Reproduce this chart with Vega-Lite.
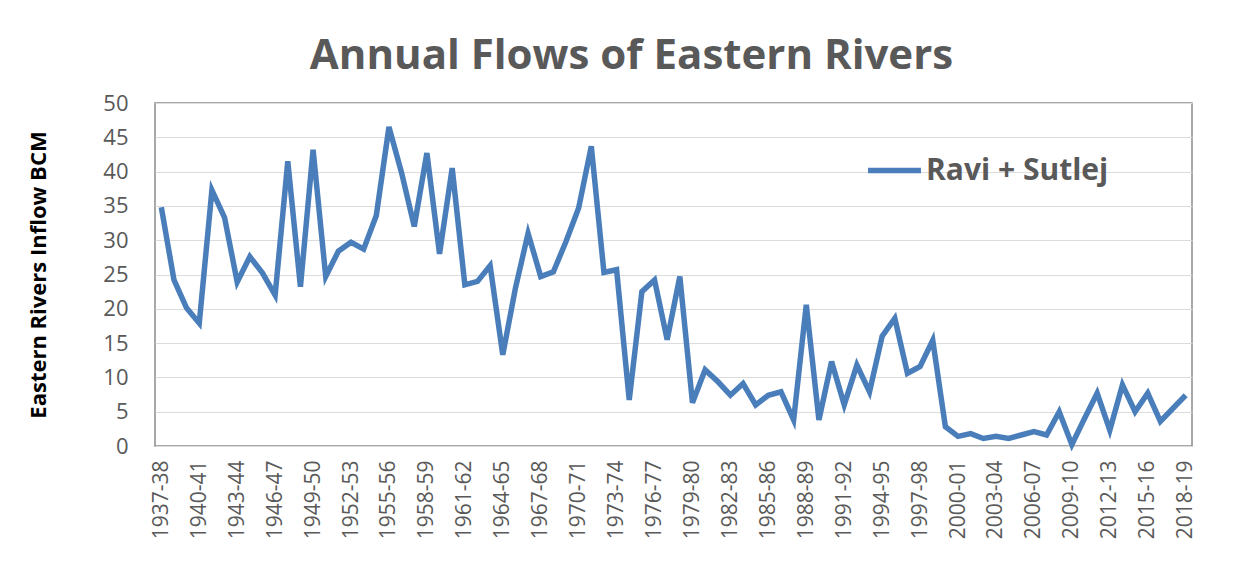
{
  "$schema": "https://vega.github.io/schema/vega-lite/v6.json",
  "width": 1037,
  "height": 343,
  "autosize": {"type": "none"},
  "padding": {"left": 155, "top": 103, "right": 60, "bottom": 135},
  "background": "white",
  "title": {
    "text": "Annual  Flows of Eastern Rivers",
    "font": "Open Sans",
    "fontSize": 42,
    "fontWeight": "bold",
    "color": "#595959",
    "anchor": "middle",
    "dx": -42,
    "offset": 14
  },
  "config": {
    "view": {"stroke": "#8c8c8c", "strokeWidth": 1.5},
    "axis": {"labelFont": "Open Sans", "labelColor": "#595959", "titleFont": "Open Sans"}
  },
  "data": {
    "values": [
      {"year": "1937-38", "flow": 34.8, "series": "Ravi + Sutlej"},
      {"year": "1938-39", "flow": 24.2, "series": "Ravi + Sutlej"},
      {"year": "1939-40", "flow": 20.1, "series": "Ravi + Sutlej"},
      {"year": "1940-41", "flow": 17.9, "series": "Ravi + Sutlej"},
      {"year": "1941-42", "flow": 37.3, "series": "Ravi + Sutlej"},
      {"year": "1942-43", "flow": 33.3, "series": "Ravi + Sutlej"},
      {"year": "1943-44", "flow": 23.9, "series": "Ravi + Sutlej"},
      {"year": "1944-45", "flow": 27.6, "series": "Ravi + Sutlej"},
      {"year": "1945-46", "flow": 25.2, "series": "Ravi + Sutlej"},
      {"year": "1946-47", "flow": 22.0, "series": "Ravi + Sutlej"},
      {"year": "1947-48", "flow": 41.5, "series": "Ravi + Sutlej"},
      {"year": "1948-49", "flow": 23.2, "series": "Ravi + Sutlej"},
      {"year": "1949-50", "flow": 43.2, "series": "Ravi + Sutlej"},
      {"year": "1950-51", "flow": 24.7, "series": "Ravi + Sutlej"},
      {"year": "1951-52", "flow": 28.4, "series": "Ravi + Sutlej"},
      {"year": "1952-53", "flow": 29.7, "series": "Ravi + Sutlej"},
      {"year": "1953-54", "flow": 28.7, "series": "Ravi + Sutlej"},
      {"year": "1954-55", "flow": 33.6, "series": "Ravi + Sutlej"},
      {"year": "1955-56", "flow": 46.5, "series": "Ravi + Sutlej"},
      {"year": "1956-57", "flow": 39.8, "series": "Ravi + Sutlej"},
      {"year": "1957-58", "flow": 32.0, "series": "Ravi + Sutlej"},
      {"year": "1958-59", "flow": 42.7, "series": "Ravi + Sutlej"},
      {"year": "1959-60", "flow": 28.0, "series": "Ravi + Sutlej"},
      {"year": "1960-61", "flow": 40.5, "series": "Ravi + Sutlej"},
      {"year": "1961-62", "flow": 23.5, "series": "Ravi + Sutlej"},
      {"year": "1962-63", "flow": 24.0, "series": "Ravi + Sutlej"},
      {"year": "1963-64", "flow": 26.3, "series": "Ravi + Sutlej"},
      {"year": "1964-65", "flow": 13.3, "series": "Ravi + Sutlej"},
      {"year": "1965-66", "flow": 23.0, "series": "Ravi + Sutlej"},
      {"year": "1966-67", "flow": 31.0, "series": "Ravi + Sutlej"},
      {"year": "1967-68", "flow": 24.7, "series": "Ravi + Sutlej"},
      {"year": "1968-69", "flow": 25.4, "series": "Ravi + Sutlej"},
      {"year": "1969-70", "flow": 29.8, "series": "Ravi + Sutlej"},
      {"year": "1970-71", "flow": 34.7, "series": "Ravi + Sutlej"},
      {"year": "1971-72", "flow": 43.7, "series": "Ravi + Sutlej"},
      {"year": "1972-73", "flow": 25.3, "series": "Ravi + Sutlej"},
      {"year": "1973-74", "flow": 25.7, "series": "Ravi + Sutlej"},
      {"year": "1974-75", "flow": 6.7, "series": "Ravi + Sutlej"},
      {"year": "1975-76", "flow": 22.5, "series": "Ravi + Sutlej"},
      {"year": "1976-77", "flow": 24.2, "series": "Ravi + Sutlej"},
      {"year": "1977-78", "flow": 15.5, "series": "Ravi + Sutlej"},
      {"year": "1978-79", "flow": 24.7, "series": "Ravi + Sutlej"},
      {"year": "1979-80", "flow": 6.3, "series": "Ravi + Sutlej"},
      {"year": "1980-81", "flow": 11.1, "series": "Ravi + Sutlej"},
      {"year": "1981-82", "flow": 9.4, "series": "Ravi + Sutlej"},
      {"year": "1982-83", "flow": 7.4, "series": "Ravi + Sutlej"},
      {"year": "1983-84", "flow": 9.1, "series": "Ravi + Sutlej"},
      {"year": "1984-85", "flow": 6.0, "series": "Ravi + Sutlej"},
      {"year": "1985-86", "flow": 7.4, "series": "Ravi + Sutlej"},
      {"year": "1986-87", "flow": 7.9, "series": "Ravi + Sutlej"},
      {"year": "1987-88", "flow": 3.8, "series": "Ravi + Sutlej"},
      {"year": "1988-89", "flow": 20.6, "series": "Ravi + Sutlej"},
      {"year": "1989-90", "flow": 3.8, "series": "Ravi + Sutlej"},
      {"year": "1990-91", "flow": 12.3, "series": "Ravi + Sutlej"},
      {"year": "1991-92", "flow": 6.0, "series": "Ravi + Sutlej"},
      {"year": "1992-93", "flow": 11.8, "series": "Ravi + Sutlej"},
      {"year": "1993-94", "flow": 7.9, "series": "Ravi + Sutlej"},
      {"year": "1994-95", "flow": 16.0, "series": "Ravi + Sutlej"},
      {"year": "1995-96", "flow": 18.6, "series": "Ravi + Sutlej"},
      {"year": "1996-97", "flow": 10.6, "series": "Ravi + Sutlej"},
      {"year": "1997-98", "flow": 11.6, "series": "Ravi + Sutlej"},
      {"year": "1998-99", "flow": 15.4, "series": "Ravi + Sutlej"},
      {"year": "1999-00", "flow": 2.8, "series": "Ravi + Sutlej"},
      {"year": "2000-01", "flow": 1.4, "series": "Ravi + Sutlej"},
      {"year": "2001-02", "flow": 1.8, "series": "Ravi + Sutlej"},
      {"year": "2002-03", "flow": 1.1, "series": "Ravi + Sutlej"},
      {"year": "2003-04", "flow": 1.4, "series": "Ravi + Sutlej"},
      {"year": "2004-05", "flow": 1.1, "series": "Ravi + Sutlej"},
      {"year": "2005-06", "flow": 1.6, "series": "Ravi + Sutlej"},
      {"year": "2006-07", "flow": 2.1, "series": "Ravi + Sutlej"},
      {"year": "2007-08", "flow": 1.6, "series": "Ravi + Sutlej"},
      {"year": "2008-09", "flow": 5.0, "series": "Ravi + Sutlej"},
      {"year": "2009-10", "flow": 0.2, "series": "Ravi + Sutlej"},
      {"year": "2010-11", "flow": 4.0, "series": "Ravi + Sutlej"},
      {"year": "2011-12", "flow": 7.7, "series": "Ravi + Sutlej"},
      {"year": "2012-13", "flow": 2.3, "series": "Ravi + Sutlej"},
      {"year": "2013-14", "flow": 8.9, "series": "Ravi + Sutlej"},
      {"year": "2014-15", "flow": 5.0, "series": "Ravi + Sutlej"},
      {"year": "2015-16", "flow": 7.7, "series": "Ravi + Sutlej"},
      {"year": "2016-17", "flow": 3.6, "series": "Ravi + Sutlej"},
      {"year": "2017-18", "flow": 5.5, "series": "Ravi + Sutlej"},
      {"year": "2018-19", "flow": 7.4, "series": "Ravi + Sutlej"}
    ]
  },
  "mark": {"type": "line", "strokeWidth": 5.5, "strokeJoin": "miter", "strokeCap": "butt"},
  "encoding": {
    "x": {
      "field": "year",
      "type": "ordinal",
      "sort": null,
      "scale": {"type": "point", "padding": 0.5},
      "axis": {
        "title": null,
        "values": ["1937-38","1940-41","1943-44","1946-47","1949-50","1952-53","1955-56","1958-59","1961-62","1964-65","1967-68","1970-71","1973-74","1976-77","1979-80","1982-83","1985-86","1988-89","1991-92","1994-95","1997-98","2000-01","2003-04","2006-07","2009-10","2012-13","2015-16","2018-19"],
        "labelAngle": -90,
        "labelAlign": "right",
        "labelBaseline": "middle",
        "labelFontSize": 21,
        "labelPadding": 14,
        "ticks": false,
        "domain": false,
        "grid": false
      }
    },
    "y": {
      "field": "flow",
      "type": "quantitative",
      "scale": {"domain": [0, 50], "nice": false},
      "axis": {
        "title": "Eastern Rivers Inflow BCM",
        "titleFontSize": 22,
        "titleFontWeight": "bold",
        "titleColor": "#000000",
        "titlePadding": 52,
        "values": [0,5,10,15,20,25,30,35,40,45,50],
        "labelFontSize": 22,
        "labelPadding": 27,
        "ticks": false,
        "domain": false,
        "grid": true,
        "gridColor": "#dcdcdc",
        "gridWidth": 1.2
      }
    },
    "color": {
      "field": "series",
      "type": "nominal",
      "scale": {"range": ["#4a7ebb"]},
      "legend": {
        "title": null,
        "orient": "none",
        "legendX": 710,
        "legendY": 38,
        "symbolType": "stroke",
        "symbolSize": 2800,
        "symbolStrokeWidth": 5.5,
        "labelFont": "Open Sans",
        "labelFontSize": 30,
        "labelFontWeight": "bold",
        "labelColor": "#595959",
        "labelOffset": 2,
        "labelLimit": 500
      }
    }
  }
}
